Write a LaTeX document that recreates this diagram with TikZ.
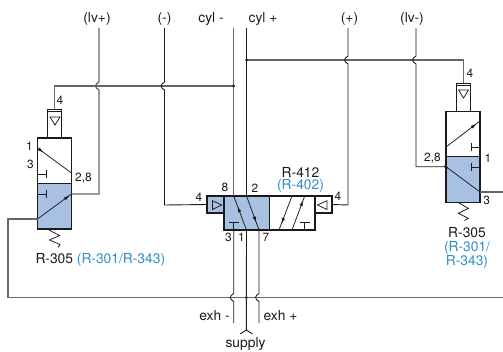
\documentclass[tikz,border=0pt]{standalone}
\usepackage{fontspec}
\setmainfont{TeX Gyre Heros}
\usetikzlibrary{arrows.meta,decorations.markings}
\definecolor{vblue}{HTML}{A8C1E3}
\definecolor{tblue}{HTML}{2F8FCB}
\definecolor{ink}{HTML}{1A1A1A}
\definecolor{grayline}{HTML}{666666}
\newcommand\hop[2]{-- (#1,#2-4) .. controls (#1-4.5,#2-1.5) and (#1-4.5,#2+1.5) .. (#1,#2+4)}
\tikzset{
  x=1pt,y=-1pt,
  every node/.style={inner sep=0pt,outer sep=0pt,text=ink,font=\fontsize{13.8}{14}\selectfont},
  lbl/.style={anchor=center},
  port/.style={anchor=center,font=\fontsize{11.9}{12}\selectfont},
  bluelbl/.style={text=tblue},
  wire/.style={draw=ink,line width=0.9pt},
  graywire/.style={draw=grayline,line width=1.25pt},
  box/.style={draw=ink,line width=1.1pt,fill=white},
  bluebox/.style={draw=ink,line width=1.1pt,fill=vblue},
  thin wire/.style={draw=ink,line width=0.75pt},
  dot/.style={circle,fill=ink,minimum size=3pt},
  flowat/.style={draw=ink,line width=0.75pt,decoration={markings,mark=at position #1 with {\arrow{Latex[length=6pt,width=3.4pt]}}},postaction={decorate}},
  flowback/.style={draw=ink,line width=0.75pt,decoration={markings,mark=at position #1 with {\arrowreversed{Latex[length=6pt,width=3.4pt]}}},postaction={decorate}},
}
\begin{document}
\begin{tikzpicture}
\useasboundingbox (0,0) rectangle (503,351);
% ---- top labels
\node[lbl] (lvp) at (97,19) {(lv+)};
\node[lbl] (mns) at (164.5,19) {(-)};
\node[lbl] (cylm) at (211,19) {cyl -};
\node[lbl] (cylp) at (263,19) {cyl +};
\node[lbl] (pls) at (349.5,19) {(+)};
\node[lbl] (lvm) at (412,19) {(lv-)};
% ---- top ends of lines
\coordinate (tlvp) at (99,28);
\coordinate (tmns) at (164.5,28);
\coordinate (tcylm) at (233.7,28);
\coordinate (tcylp) at (246.5,28);
\coordinate (tpls) at (348,28);
\coordinate (tlvm) at (416,28);
% ---- main valve
\node[bluebox,minimum width=45.5pt,minimum height=34pt,anchor=north west] (mainb) at (224,196) {};
\node[box,minimum width=45.5pt,minimum height=34pt,anchor=north west] (mainw) at (269.5,196) {};
\node[bluebox,minimum width=17pt,minimum height=17pt,anchor=north east] (pilotL) at (224,196) {};
\node[box,minimum width=17pt,minimum height=17pt,anchor=north west] (pilotR) at (315,196) {};
\draw[thin wire,fill=vblue] (212.5,200.7) -- (221.7,205) -- (212.5,209.5) -- cycle;
\draw[thin wire,fill=white] (327,200.7) -- (317.5,205) -- (327,209.5) -- cycle;
% ---- left valve
\node[box,minimum width=34pt,minimum height=45.5pt,anchor=north west] (lw) at (37.5,138) {};
\node[bluebox,minimum width=34pt,minimum height=45.5pt,anchor=north west] (lb) at (37.5,183.5) {};
\node[box,minimum width=14pt,minimum height=28.5pt,anchor=south] (lpil) at (54.5,138) {};
\draw[thin wire] (47.5,111.5) -- (61.5,111.5);
\draw[thin wire] (50,117) -- (60,117) -- (55,125) -- cycle;
% ---- right valve
\node[box,minimum width=34pt,minimum height=45pt,anchor=north west] (rw) at (446,111.7) {};
\node[bluebox,minimum width=34pt,minimum height=45.5pt,anchor=north west] (rb) at (446,156.7) {};
\node[box,minimum width=14pt,minimum height=28.5pt,anchor=south] (rpil) at (463.5,111.7) {};
\draw[thin wire] (456.5,85.5) -- (470.5,85.5);
\draw[thin wire] (458.5,90) -- (468.5,90) -- (463.5,98) -- cycle;
% ---- wires
\coordinate (jcm) at (233.7,86);
\coordinate (jcp) at (246.5,60);
\coordinate (jsup) at (246.3,297.5);
\coordinate (c8) at (233.7,196);
\coordinate (c2) at (246.5,196);
\coordinate (c3) at (233.7,230);
\coordinate (c1) at (246.5,230);
\coordinate (c7) at (259,230);
\coordinate (d1) at (279,230);
\coordinate (d2) at (292,230);
\coordinate (d3) at (304.7,230);
\coordinate (e1) at (292,196);
\coordinate (e2) at (304.7,196);
% horizontal buses
\draw[graywire] (lpil.north) -- (54.5,86) -- (jcm);
\draw[graywire] (jcp) -- (463.5,60) -- (rpil.north);
\draw[graywire] (lb.west |- 0,219) -- (8,219) -- (8,297.5) -- (503,297.5);
\draw[graywire] (480,192) -- (503,192);
% verticals
\draw[graywire] (tlvp) \hop{99}{86} -- (99,194) -- (71.5,194);
\draw[wire] (tmns) \hop{164.5}{86} -- (164.5,205) -- (pilotL.west);
\draw[graywire] (tcylm) -- (c8);
\draw[wire] (tcylp) -- (c2);
\draw[wire] (tpls) \hop{348}{60} -- (348,205) -- (pilotR.east);
\draw[wire] (tlvm) \hop{416}{60} -- (416,166.7) -- (446,166.7);
\draw[wire] (c3) \hop{233.7}{297.5} -- (233.7,323);
\draw[wire] (c7) \hop{259}{297.5} -- (259,323);
\draw[wire] (c1) -- (246.3,330);
\draw[wire] (240,334) -- (246.3,330) -- (252.5,334);
\node[dot] (dcm) at (jcm) {};
\node[dot] (dcp) at (jcp) {};
\node[dot] (dsup) at (jsup) {};
% ---- flow arrows in main valve
\draw[flowback=0.3] (c8) -- (c1);
\draw[flowat=0.78] (c2) -- (c7);
\draw[flowat=0.82] (e1) -- (d1);
\draw[flowat=0.88] (d2) -- (e2);
\draw[thin wire] (233.7,230) -- (233.7,222) (229,222) -- (238.5,222);
\draw[thin wire] (304.7,230) -- (304.7,222) (300,222) -- (309.5,222);
% ---- left valve inner
\draw[flowback=0.82] (71.5,173) -- (37.5,148);
\draw[flowat=0.95] (37.5,219) -- (71.5,194);
\draw[thin wire] (37.5,174) -- (46,174) (46,170) -- (46,178);
\draw[thin wire] (37.5,194) -- (46,194) (46,190) -- (46,198);
% ---- right valve inner
\draw[flowat=0.9] (446,147) -- (480,121);
\draw[flowback=0.9] (480,192) -- (446,166.7);
\draw[thin wire] (480,147) -- (471.5,147) (471.5,143) -- (471.5,151);
\draw[thin wire] (480,167) -- (471.5,167) (471.5,163) -- (471.5,171);
% ---- springs
\draw[thin wire] (49,230) -- (59.5,235.5) -- (49.5,240) -- (60,244.5) -- (58,247.5);
\draw[thin wire] (458.3,202.5) -- (468.3,208.3) -- (458.3,213.3) -- (468.3,218.3) -- (464.5,220.5);
% ---- port labels
\node[port] (p4a) at (60,100) {4};
\node[port] (p1a) at (29.5,146) {1};
\node[port] (p3a) at (30.5,164) {3};
\node[port] (p28a) at (83.5,178) {2,8};
\node[port] (p4b) at (199,197) {4};
\node[port] (p8) at (225,187.5) {8};
\node[port] (p2) at (255,188) {2};
\node[port] (p3c) at (228.5,237) {3};
\node[port] (p1c) at (241.5,237) {1};
\node[port] (p7) at (266,237) {7};
\node[port] (p4c) at (338,196.5) {4};
\node[port] (p4d) at (470,73) {4};
\node[port] (p28b) at (432.5,158) {2,8};
\node[port] (p1d) at (488,158.5) {1};
\node[port] (p3d) at (486.7,200) {3};
% ---- valve labels
\node[lbl] (r412) at (300.5,172) {R-412};
\node[lbl,bluelbl] (r402) at (300.5,186) {(R-402)};
\node[anchor=west] (r305a) at (35.5,260) {R-305 \textcolor{tblue}{(R-301/R-343)}};
\node[lbl] (r305b) at (467,233) {R-305};
\node[lbl,bluelbl] (r301) at (467,247.5) {(R-301/};
\node[lbl,bluelbl] (r343) at (467,261.5) {R-343)};
\node[lbl] (exhm) at (214.5,316) {exh -};
\node[lbl] (exhp) at (280.5,316) {exh +};
\node[lbl] (supply) at (245.5,344) {supply};
\end{tikzpicture}
\end{document}
